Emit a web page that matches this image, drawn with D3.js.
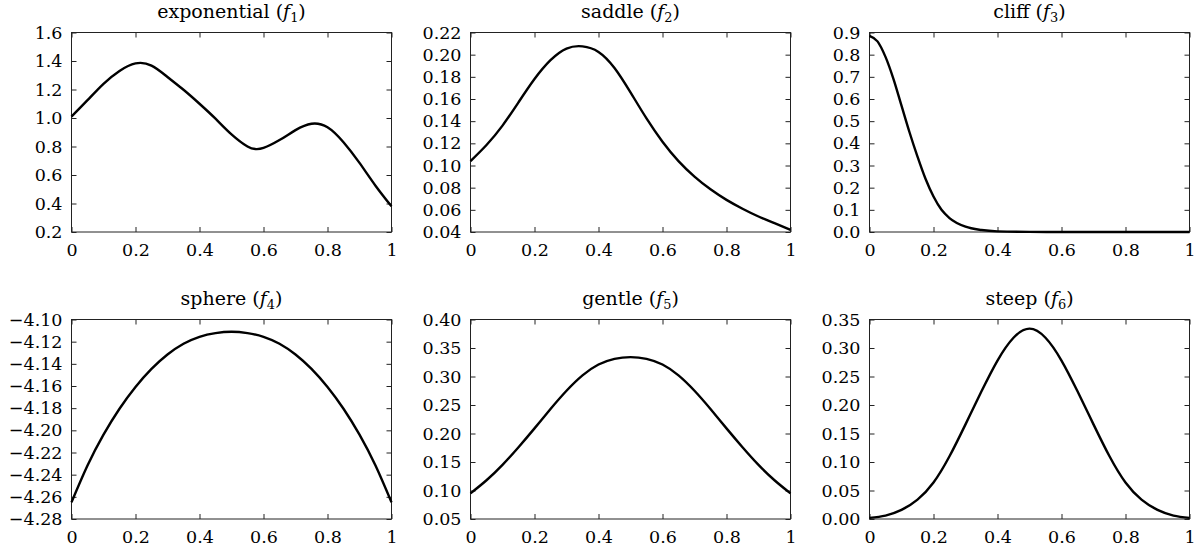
<!DOCTYPE html>
<html><head><meta charset="utf-8">
<script src="https://cdn.jsdelivr.net/npm/d3@7"></script>
<style>
body{margin:0;background:#fff}
svg text{font-family:"DejaVu Serif",serif;fill:#000}
</style>
</head><body>
<svg id="c" width="1203" height="553"></svg>
<script>
// ---- data ----
const xGrid = [0,0.05,0.1,0.15,0.2,0.25,0.3,0.35,0.4,0.45,0.5,0.55,0.6,0.65,0.7,0.75,0.8,0.85,0.9,0.95,1];
const xExp = [0,0.05,0.1,0.15,0.2,0.25,0.3,0.35,0.4,0.45,0.5,0.55,0.575,0.6,0.65,0.7,0.75,0.8,0.85,0.9,0.95,1];
const xCliff = [0,0.025,0.05,0.075,0.1,0.125,0.15,0.175,0.2,0.225,0.25,0.3,0.35,0.4,0.5,0.6,0.8,1];
const xTicks = [0,0.2,0.4,0.6,0.8,1];
const xTickLabels = ["0","0.2","0.4","0.6","0.8","1"];

const titles = ["exponential","saddle","cliff","sphere","gentle","steep"];
const subscripts = ["1","2","3","4","5","6"];

const f1 = [1.01,1.125,1.24,1.33,1.383,1.368,1.288,1.198,1.10,0.995,0.885,0.80,0.782,0.79,0.845,0.915,0.96,0.935,0.83,0.685,0.525,0.38];
const f2 = [0.104,0.1185,0.136,0.157,0.178,0.195,0.2055,0.2075,0.2025,0.188,0.166,0.1425,0.1215,0.104,0.090,0.0785,0.069,0.061,0.054,0.048,0.042];
const f3 = [0.885,0.86,0.79,0.69,0.57,0.45,0.34,0.24,0.16,0.10,0.063,0.024,0.009,0.003,0.0005,0.0001,0,0];
const f4 = [-4.265,-4.2318,-4.2039,-4.1805,-4.1609,-4.1446,-4.1316,-4.1219,-4.1156,-4.1123,-4.1111,-4.1123,-4.1156,-4.1219,-4.1316,-4.1446,-4.1609,-4.1805,-4.2039,-4.2318,-4.265];
const f5 = [0.095,0.118,0.145,0.176,0.209,0.243,0.275,0.302,0.321,0.331,0.334,0.331,0.321,0.302,0.275,0.243,0.209,0.176,0.145,0.118,0.095];
const f6 = [0.002,0.006,0.016,0.034,0.064,0.11,0.166,0.224,0.278,0.318,0.334,0.318,0.278,0.224,0.166,0.11,0.064,0.034,0.016,0.006,0.002];

const yTicks1 = [0.2,0.4,0.6,0.8,1.0,1.2,1.4,1.6];
const yTicks2 = [0.04,0.06,0.08,0.10,0.12,0.14,0.16,0.18,0.20,0.22];
const yTicks3 = [0.0,0.1,0.2,0.3,0.4,0.5,0.6,0.7,0.8,0.9];
const yTicks4 = [-4.28,-4.26,-4.24,-4.22,-4.20,-4.18,-4.16,-4.14,-4.12,-4.10];
const yTicks5 = [0.05,0.10,0.15,0.20,0.25,0.30,0.35,0.40];
const yTicks6 = [0.00,0.05,0.10,0.15,0.20,0.25,0.30,0.35];
const yFormats = [".1f",".2f",".1f",".2f",".2f",".2f"];

const panels = [
  {xs:xExp, ys:f1, yt:yTicks1, curve:d3.curveNatural},
  {xs:xGrid, ys:f2, yt:yTicks2, curve:d3.curveNatural},
  {xs:xCliff, ys:f3, yt:yTicks3, curve:d3.curveMonotoneX},
  {xs:xGrid, ys:f4, yt:yTicks4, curve:d3.curveNatural},
  {xs:xGrid, ys:f5, yt:yTicks5, curve:d3.curveNatural},
  {xs:xGrid, ys:f6, yt:yTicks6, curve:d3.curveNatural}
];

// ---- layout ----
const svg = d3.select("#c");
const colX = [71.5, 470.5, 869.5];
const rowY = [32.5, 319.5];
const W = 320, H = 199.5;
const FS = 17.5, TFS = 19;
const frameColor = "#222";

panels.forEach((p, i) => {
  const gx = colX[i % 3], gy = rowY[Math.floor(i / 3)];
  const g = svg.append("g").attr("transform", `translate(${gx},${gy})`);
  const x = d3.scaleLinear().domain([0, 1]).range([0, W]);
  const y = d3.scaleLinear().domain(d3.extent(p.yt)).range([H, 0]);
  const fmt = d3.format(yFormats[i]);

  const styleAxis = sel => {
    sel.select(".domain").remove();
    sel.selectAll(".tick line").attr("stroke", frameColor).attr("stroke-width", 1);
    sel.selectAll(".tick text").attr("font-size", FS).attr("fill", "#000")
      .attr("font-family", "DejaVu Serif, serif");
  };

  g.append("g").attr("transform", `translate(0,${H})`)
    .call(d3.axisBottom(x).tickValues(xTicks).tickSizeInner(-5).tickSizeOuter(0).tickPadding(11.4)
      .tickFormat((d, k) => xTickLabels[k]))
    .call(styleAxis);
  g.append("g")
    .call(d3.axisTop(x).tickValues(xTicks).tickSizeInner(-5).tickSizeOuter(0).tickFormat(""))
    .call(styleAxis);
  g.append("g")
    .call(d3.axisLeft(y).tickValues(p.yt).tickSizeInner(-5).tickSizeOuter(0).tickPadding(9)
      .tickFormat(d => fmt(d).replace("-", "\u2212")))
    .call(styleAxis);
  g.append("g").attr("transform", `translate(${W},0)`)
    .call(d3.axisRight(y).tickValues(p.yt).tickSizeInner(-5).tickSizeOuter(0).tickFormat(""))
    .call(styleAxis);

  g.append("rect").attr("x", 0).attr("y", 0).attr("width", W).attr("height", H)
    .attr("fill", "none").attr("stroke", frameColor).attr("stroke-width", 1);

  const line = d3.line().x((d, k) => x(p.xs[k])).y(d => y(d)).curve(p.curve);
  g.append("path").datum(p.ys).attr("d", line)
    .attr("fill", "none").attr("stroke", "#000").attr("stroke-width", 2.4)
    .attr("stroke-linejoin", "round");

  const t = g.append("text").attr("x", W / 2).attr("y", -15)
    .attr("text-anchor", "middle").attr("font-size", TFS);
  t.append("tspan").text(titles[i] + " (");
  t.append("tspan").attr("font-style", "italic").text("f");
  t.append("tspan").attr("font-size", TFS * 0.68).attr("dy", 4).text(subscripts[i]);
  t.append("tspan").attr("dy", -4).text(")");
});
</script>
</body></html>
